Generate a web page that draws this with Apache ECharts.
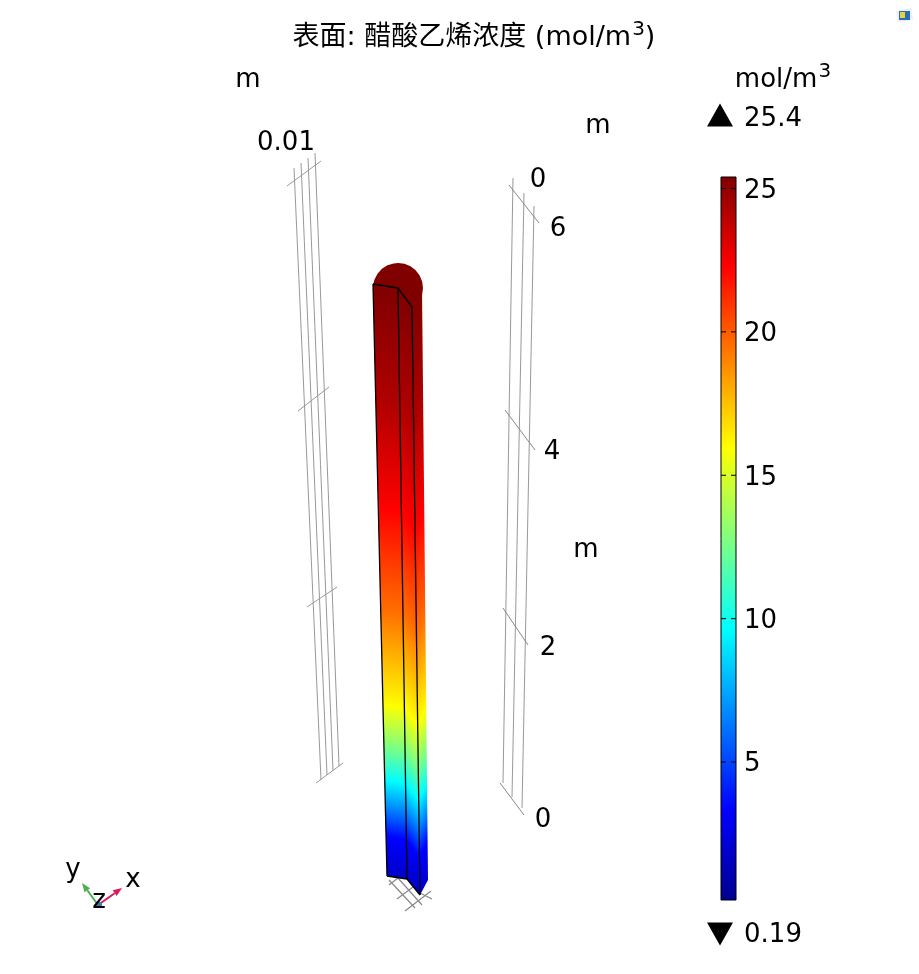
<!DOCTYPE html>
<html><head><meta charset="utf-8">
<style>html,body{margin:0;padding:0;background:#fff}#c{width:919px;height:974px}</style>
<script src="https://cdn.jsdelivr.net/npm/echarts@6/dist/echarts.min.js"></script>
</head><body><div id="c"></div>
<script>
// ---- values ----
const colorTicks = [5, 10, 15, 20, 25];
const colorMin = 0.19, colorMax = 25.4;
const heightM = [0, 0.25, 0.48, 0.8, 1.15, 1.55, 2, 3, 4, 5, 6];
const concentration = [1.8, 2.6, 3.4, 6.4, 9.6, 12.8, 15.9, 19.5, 22.2, 24.2, 25.4];
// scene geometry of the 3D view, on the hidden page-scale axes: [xTop, yTop, xBottom, yBottom]
const columnEdges = [[373,284,387,876],[398,288,407,879],[412,307,420,895],[422,290,428,880]];
const capCentre = [398,288], capRadius = 25, capAngles = [189,200,215,230,245,260,270,285,300,315,330,345,360,375,390,405,413.6];
const leftRails = [[294,168,321,780],[301,163,327,775],[308,158,333,771],[315,153,339,766]];
const leftTicks = [[287,186,321,161],[298,411,329,387],[307,607,337,587],[316,783,343,763]];
const rightRails = [[513,178,503,783],[524,193,512,797],[534,206,522,808]];
const rightTicks = [[509,185,539,223],[505,410,535,450],[503,608,528,645],[500,783,524,815]];
const floorMesh = [[389,885,398,878],[397,899,413,887],[405,911,431,891],[389,880,415,908],[398,878,422,905],[420,893,432,899]];
const triadArrows = [[98,905,122,888,'#d81b60'],[98,905,82,883,'#4caf50']];
const sceneLabels = [['m',248,80],['0.01',286,143],['m',598,126],['0',538,180],['6',558,229],['4',552,452],['2',548,648],['m',586,550],['0',543,820],['25.4',773,119],['0.19',773,935],['y',73,870],['x',133,880],['z',99,901]];

// ---- jet colour scale ----
const jetKnots = [[0,[0,0,143]],[0.125,[0,0,255]],[0.375,[0,255,255]],[0.625,[255,255,0]],[0.875,[255,0,0]],[1,[128,0,0]]];
function jet(v){
  const t = Math.min(1, Math.max(0, (v-colorMin)/(colorMax-colorMin)));
  for (let i=1;i<jetKnots.length;i++){
    if (t<=jetKnots[i][0]){
      const [a,ca]=jetKnots[i-1],[b,cb]=jetKnots[i],k=(t-a)/(b-a);
      return 'rgb('+ca.map((c,j)=>Math.round(c+(cb[j]-c)*k)).join(',')+')';
    }
  }
  return 'rgb(128,0,0)';
}
// perspective: share of the column's screen length reached at height z (m)
const share = z => z/(7.38-0.23*z);
const FONT = "'DejaVu Sans','Noto Sans CJK SC',sans-serif";
const supStyle = {fontFamily:FONT,fontSize:20,fontWeight:'normal',color:'#000',verticalAlign:'top',lineHeight:20,padding:[0,0,0,1]};

function segmentSeries(name, segs, color, z, width){
  return {type:'custom',name,coordinateSystem:'cartesian2d',xAxisIndex:0,yAxisIndex:0,data:segs,z,clip:false,silent:true,
    renderItem:(p,api)=>{
      const a=api.coord([api.value(0),api.value(1)]),b=api.coord([api.value(2),api.value(3)]);
      return {type:'line',shape:{x1:a[0],y1:a[1],x2:b[0],y2:b[1]},style:{stroke:color,lineWidth:width||1}};
    }};
}

const faceIdx=[0,1,2];
const chart = echarts.init(document.getElementById('c'),null,{renderer:'canvas'});
chart.setOption({
  animation:false,
  backgroundColor:'#fff',
  title:{text:'{a|表面: 醋酸乙烯浓度 (mol/m}{s|3}{a|)}',left:469,top:33,textAlign:'center',textVerticalAlign:'middle',
    textStyle:{fontWeight:'normal',rich:{a:{fontFamily:FONT,fontSize:27,fontWeight:'normal',color:'#000',lineHeight:36},s:supStyle}}},
  grid:[{left:0,top:0,width:919,height:974,show:false},{left:721,top:177,width:15,height:723,show:false}],
  xAxis:[{type:'value',min:0,max:919,show:false,gridIndex:0},{type:'value',min:0,max:1,show:false,gridIndex:1}],
  yAxis:[
    {type:'value',min:0,max:974,inverse:true,show:false,gridIndex:0},
    {type:'value',gridIndex:1,min:colorMin,max:colorMax,show:false}
  ],
  series:[
    segmentSeries('left rails',leftRails,'#999',1),
    segmentSeries('left ticks',leftTicks,'#999',1),
    segmentSeries('right rails',rightRails,'#999',1),
    segmentSeries('right ticks',rightTicks,'#888',1),
    segmentSeries('floor',floorMesh,'#888',1,1.2),
    {type:'custom',name:'column',coordinateSystem:'cartesian2d',xAxisIndex:0,yAxisIndex:0,data:faceIdx.map(i=>[i]),z:3,clip:false,silent:true,
      renderItem:(p,api)=>{
        const i=api.value(0);
        const c=e=>[api.coord([e[0],e[1]]),api.coord([e[2],e[3]])];
        const [lt,lb]=c(columnEdges[i]),[rt,rb]=c(columnEdges[i+1]);
        const mb=[(lb[0]+rb[0])/2,(lb[1]+rb[1])/2],mt=[(lt[0]+rt[0])/2,(lt[1]+rt[1])/2];
        const band=[rb[0]-lb[0]+rt[0]-lt[0],rb[1]-lb[1]+rt[1]-lt[1]];
        const len=Math.hypot(band[0],band[1]),n=[-band[1]/len,band[0]/len];
        const d=[mt[0]-mb[0],mt[1]-mb[1]],dot=d[0]*n[0]+d[1]*n[1];
        const grad=new echarts.graphic.LinearGradient(mb[0],mb[1],mb[0]+n[0]*dot,mb[1]+n[1]*dot,
          heightM.map((z,j)=>({offset:share(z),color:jet(concentration[j])})),true);
        return {type:'polygon',shape:{points:[lt,rt,rb,lb]},style:{fill:grad,stroke:null}};
      }},
    {type:'custom',name:'cap',coordinateSystem:'cartesian2d',xAxisIndex:0,yAxisIndex:0,data:[[0]],z:4,clip:false,silent:true,
      renderItem:(p,api)=>{
        const pts=capAngles.map(a=>api.coord([capCentre[0]+capRadius*Math.cos(a*Math.PI/180),capCentre[1]+capRadius*Math.sin(a*Math.PI/180)]));
        pts.push(api.coord(capCentre));
        return {type:'polygon',shape:{points:pts},style:{fill:jet(colorMax),stroke:null}};
      }},
    segmentSeries('edges',[[373,284,387,876],[398,288,407,879],[412,307,420,895],[373,284,398,288],[398,288,412,307],[387,876,407,879],[407,879,420,895]],'#000',5,1.3),
    {type:'custom',name:'triad',coordinateSystem:'cartesian2d',xAxisIndex:0,yAxisIndex:0,data:triadArrows.map(t=>t.slice(0,4)),z:6,clip:false,silent:true,
      renderItem:(p,api)=>{
        const t=triadArrows[p.dataIndex];
        const a=api.coord([t[0],t[1]]),b=api.coord([t[2],t[3]]);
        const L=Math.hypot(b[0]-a[0],b[1]-a[1]),u=[(b[0]-a[0])/L,(b[1]-a[1])/L],v=[-u[1],u[0]];
        const h=[b[0]-u[0]*9,b[1]-u[1]*9];
        return {type:'group',children:[
          {type:'line',shape:{x1:a[0],y1:a[1],x2:h[0],y2:h[1]},style:{stroke:t[4],lineWidth:2}},
          {type:'polygon',shape:{points:[b,[h[0]+v[0]*3.5,h[1]+v[1]*3.5],[h[0]-v[0]*3.5,h[1]-v[1]*3.5]]},style:{fill:t[4]}}
        ]};
      }},
    {type:'scatter',name:'triad origin',xAxisIndex:0,yAxisIndex:0,data:[[99,905]],symbol:'circle',symbolSize:6,itemStyle:{color:'#3f74b5',opacity:1},z:6,silent:true},
    {type:'custom',name:'colorbar',coordinateSystem:'cartesian2d',xAxisIndex:1,yAxisIndex:1,data:[[0,colorMin,1,colorMax]],z:3,clip:false,silent:true,
      renderItem:(p,api)=>{
        const a=api.coord([api.value(0),api.value(3)]),b=api.coord([api.value(2),api.value(1)]);
        const grad=new echarts.graphic.LinearGradient(0,0,0,1,jetKnots.map(k=>({offset:1-k[0],color:'rgb('+k[1].join(',')+')'})).reverse());
        return {type:'rect',shape:{x:a[0],y:a[1],width:b[0]-a[0],height:b[1]-a[1]},style:{fill:grad,stroke:'#000',lineWidth:1}};
      }},
    {type:'custom',name:'colorbar ticks',coordinateSystem:'cartesian2d',xAxisIndex:1,yAxisIndex:1,data:colorTicks.map(v=>[v]),z:4,clip:false,silent:true,
      renderItem:(p,api)=>{
        const v=api.value(0),y=api.coord([0,v])[1],l=api.coord([0,v])[0],r=api.coord([1,v])[0];
        const st={stroke:'#000',lineWidth:1};
        return {type:'group',children:[
          {type:'line',shape:{x1:l,y1:y,x2:l+5,y2:y},style:st},
          {type:'line',shape:{x1:r-5,y1:y,x2:r,y2:y},style:st}]};
      }},
    {type:'scatter',name:'colorbar labels',xAxisIndex:1,yAxisIndex:1,symbolSize:0,silent:true,z:7,itemStyle:{opacity:1},
      data:colorTicks.map(v=>[1,v]),
      label:{show:true,position:'right',distance:8,offset:[0,2.5],formatter:p=>String(p.value[1]),fontFamily:FONT,fontSize:26,color:'#000'}},
    {type:'scatter',name:'range markers',xAxisIndex:0,yAxisIndex:0,symbol:'triangle',symbolSize:[26,23],itemStyle:{color:'#000',opacity:1},silent:true,z:6,
      data:[{value:[720,115]},{value:[720,934],symbolRotate:180}]},
    {type:'scatter',name:'labels',xAxisIndex:0,yAxisIndex:0,symbolSize:0,silent:true,z:7,itemStyle:{opacity:1},
      data:sceneLabels.map(l=>({value:[l[1],l[2]],name:l[0]})),
      label:{show:true,position:'inside',formatter:'{b}',fontFamily:FONT,fontSize:26,color:'#000',align:'center',verticalAlign:'middle'}},
    {type:'scatter',name:'unit labels',xAxisIndex:0,yAxisIndex:0,symbolSize:0,silent:true,z:7,itemStyle:{opacity:1},
      data:[{value:[783,80],name:'mol/m3'}],
      label:{show:true,position:'inside',formatter:'{a|mol/m}{s|3}',align:'center',verticalAlign:'middle',
        rich:{a:{fontFamily:FONT,fontSize:26,color:'#000',lineHeight:36},s:supStyle}}}
  ],
  graphic:[
    {type:'polygon',shape:{points:[[896,11],[911,8],[913,20],[898,22]]},style:{fill:'#eceff2'},silent:true},
    {type:'rect',shape:{x:899,y:11,width:11,height:9},style:{fill:'#2a6fb5'},silent:true},
    {type:'rect',shape:{x:900,y:12,width:5,height:6},style:{fill:'#e6d24a'},silent:true}
  ]
});
</script></body></html>
